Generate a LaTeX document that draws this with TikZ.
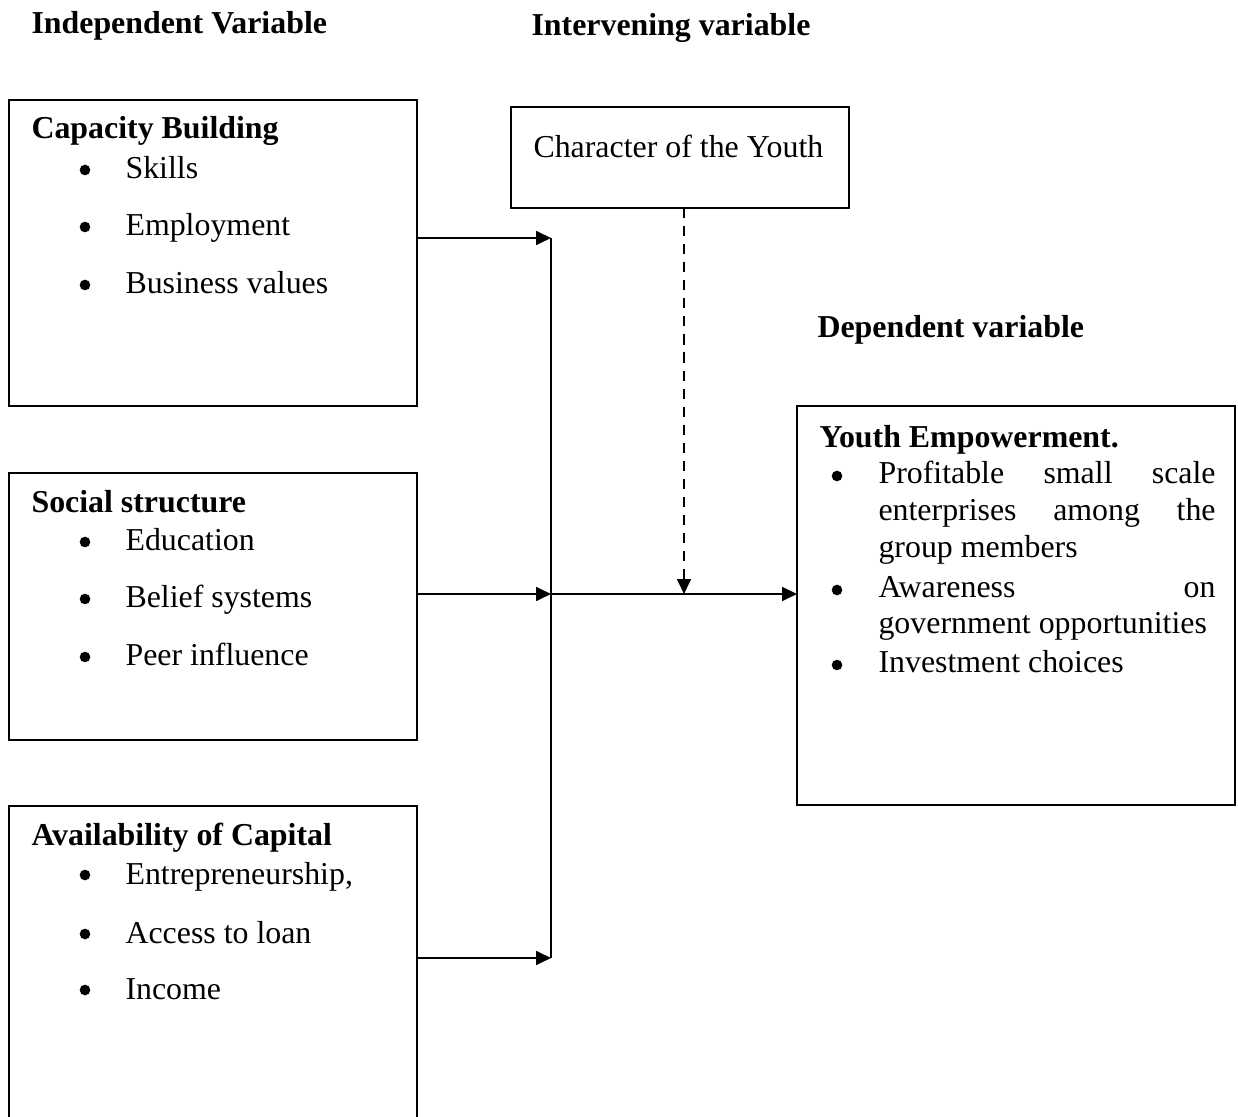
\documentclass[tikz,border=0pt]{standalone}
\usepackage{fontspec}
\setmainfont{Liberation Serif}
\usetikzlibrary{arrows.meta}
\def\u{0.3765pt}
\newlength\yew
\setlength\yew{126.9pt}
\tikzset{
  box/.style={draw, line width=0.85pt, inner sep=0pt, outer sep=0pt, anchor=north west},
  txt/.style={anchor=base west, inner sep=0pt, font=\fontsize{12}{14}\selectfont},
  hd/.style={txt, font=\fontsize{12}{14}\selectfont\bfseries},
  conn/.style={line width=0.75pt},
  arr/.style={conn, -{Triangle[length=5.6pt,width=5.2pt]}},
  dot/.style={fill=black}
}
\begin{document}
\begin{tikzpicture}[x=0.3765pt, y=-0.3765pt]
\useasboundingbox (0,0) rectangle (1238,1117);
\clip (0,0) rectangle (1238,1117);
\fill[white] (0,0) rectangle (1238,1117);

% headers
\node[hd] (hind) at (31,34) {Independent Variable};
\node[hd] (hint) at (531,36) {Intervening variable};
\node[hd] (hdep) at (817,338) {Dependent variable};

% boxes
\node[box, minimum width={408*\u}, minimum height={306*\u}] (cb) at (9,100) {};
\node[box, minimum width={408*\u}, minimum height={267*\u}] (ss) at (9,473) {};
\node[box, minimum width={408*\u}, minimum height={330*\u}] (ac) at (9,806) {};
\node[box, minimum width={338*\u}, minimum height={101*\u}] (cy) at (511,107) {};
\node[box, minimum width={438*\u}, minimum height={399*\u}] (ye) at (797,406) {};

% Capacity Building
\node[hd] (cbh) at (31,139) {Capacity Building};
\fill[dot] (85,170) circle (2pt);
\node[txt] (cb1) at (125,179) {Skills};
\fill[dot] (85,227) circle (2pt);
\node[txt] (cb2) at (125,236) {Employment};
\fill[dot] (85,285) circle (2pt);
\node[txt] (cb3) at (125,294) {Business values};

% Social structure
\node[hd] (ssh) at (31,513) {Social structure};
\fill[dot] (85,542) circle (2pt);
\node[txt] (ss1) at (125,551) {Education};
\fill[dot] (85,599) circle (2pt);
\node[txt] (ss2) at (125,608) {Belief systems};
\fill[dot] (85,657) circle (2pt);
\node[txt] (ss3) at (125,666) {Peer influence};

% Availability of Capital
\node[hd] (ach) at (31,846) {Availability of Capital};
\fill[dot] (85,875) circle (2pt);
\node[txt] (ac1) at (125,884) {Entrepreneurship,};
\fill[dot] (85,934) circle (2pt);
\node[txt] (ac2) at (125,943) {Access to loan};
\fill[dot] (85,990) circle (2pt);
\node[txt] (ac3) at (125,999) {Income};

% Character of the Youth
\node[txt] (cyt) at (533,158) {Character of the Youth};

% Youth Empowerment
\node[hd] (yeh) at (819,448) {Youth Empowerment.};
\fill[dot] (837,476) circle (2pt);
\node[txt] (ye1) at (878,484) {\makebox[\yew][s]{Profitable small scale}};
\node[txt] (ye2) at (878,521) {\makebox[\yew][s]{enterprises among the}};
\node[txt] (ye3) at (878,558) {group members};
\fill[dot] (837,590) circle (2pt);
\node[txt] (ye4) at (878,598) {\makebox[\yew][s]{Awareness on}};
\node[txt] (ye5) at (878,634) {government opportunities};
\fill[dot] (837,665) circle (2pt);
\node[txt] (ye6) at (878,673) {Investment choices};

% connectors
\coordinate (j1) at (551,238);
\coordinate (j2) at (551,594);
\coordinate (j3) at (551,958);
\coordinate (d) at (684,594);
\draw[arr] (cb.east |- j1) -- (j1);
\draw[arr] (ss.east |- j2) -- (j2);
\draw[arr] (ac.east |- j3) -- (j3);
\draw[conn] (j1) -- (j3);
\draw[arr] (j2) -- (ye.west |- j2);
\draw[arr, dash pattern=on 3.8pt off 3pt] (cy.south -| d) -- (d);
\end{tikzpicture}
\end{document}
